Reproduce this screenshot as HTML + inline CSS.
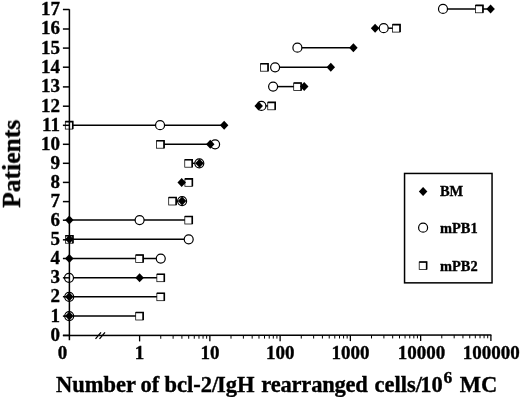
<!DOCTYPE html>
<html><head><meta charset="utf-8"><style>html,body{margin:0;padding:0;background:#fff;}body{width:520px;height:397px;overflow:hidden;}svg{display:block;}</style></head>
<body><svg width="520" height="397" viewBox="0 0 520 397">
<defs><filter id="bl" filterUnits="userSpaceOnUse" x="0" y="0" width="520" height="397"><feGaussianBlur stdDeviation="0.3"/></filter></defs><rect width="520" height="397" fill="#fff"/><g filter="url(#bl)">
<line x1="443.0" y1="8.90" x2="490.6" y2="8.90" stroke="#000" stroke-width="1.5"/>
<line x1="375.1" y1="28.20" x2="396.5" y2="28.20" stroke="#000" stroke-width="1.5"/>
<line x1="297.4" y1="47.70" x2="353.4" y2="47.70" stroke="#000" stroke-width="1.5"/>
<line x1="275.1" y1="67.30" x2="330.8" y2="67.30" stroke="#000" stroke-width="1.5"/>
<line x1="273.1" y1="86.60" x2="304.2" y2="86.60" stroke="#000" stroke-width="1.5"/>
<line x1="258.7" y1="105.90" x2="271.65" y2="105.90" stroke="#000" stroke-width="1.5"/>
<line x1="69.4" y1="125.20" x2="224.15" y2="125.20" stroke="#000" stroke-width="1.5"/>
<line x1="160.5" y1="144.30" x2="215.1" y2="144.30" stroke="#000" stroke-width="1.5"/>
<line x1="188.65" y1="163.30" x2="199.3" y2="163.30" stroke="#000" stroke-width="1.5"/>
<line x1="181.7" y1="182.40" x2="188.8" y2="182.40" stroke="#000" stroke-width="1.5"/>
<line x1="172.6" y1="201.10" x2="182.1" y2="201.10" stroke="#000" stroke-width="1.5"/>
<line x1="69.4" y1="220.10" x2="188.70963250464868" y2="220.10" stroke="#000" stroke-width="1.5"/>
<line x1="69.4" y1="239.30" x2="188.70963250464868" y2="239.30" stroke="#000" stroke-width="1.5"/>
<line x1="69.4" y1="258.60" x2="160.75036749535133" y2="258.60" stroke="#000" stroke-width="1.5"/>
<line x1="69.4" y1="277.80" x2="160.75036749535133" y2="277.80" stroke="#000" stroke-width="1.5"/>
<line x1="69.4" y1="296.80" x2="160.75036749535133" y2="296.80" stroke="#000" stroke-width="1.5"/>
<line x1="69.4" y1="316.10" x2="139.6" y2="316.10" stroke="#000" stroke-width="1.5"/>
<rect x="475.50" y="5.35" width="7.45" height="7.45" fill="#fff" stroke="#000" stroke-width="0.75"/><path d="M475.50 5.35H482.95V12.80" fill="none" stroke="#000" stroke-width="1.6"/>
<circle cx="443.00" cy="8.90" r="4.50" fill="#fff" stroke="#000" stroke-width="1.2"/>
<path d="M490.60 4.40L494.85 8.90L490.60 13.40L486.35 8.90Z" fill="#000"/>
<rect x="392.60" y="24.65" width="7.45" height="7.45" fill="#fff" stroke="#000" stroke-width="0.75"/><path d="M392.60 24.65H400.05V32.10" fill="none" stroke="#000" stroke-width="1.6"/>
<circle cx="383.70" cy="28.20" r="4.50" fill="#fff" stroke="#000" stroke-width="1.2"/>
<path d="M375.10 23.70L379.35 28.20L375.10 32.70L370.85 28.20Z" fill="#000"/>
<circle cx="297.40" cy="47.70" r="4.50" fill="#fff" stroke="#000" stroke-width="1.2"/>
<path d="M353.40 43.20L357.65 47.70L353.40 52.20L349.15 47.70Z" fill="#000"/>
<rect x="260.60" y="63.75" width="7.45" height="7.45" fill="#fff" stroke="#000" stroke-width="0.75"/><path d="M260.60 63.75H268.05V71.20" fill="none" stroke="#000" stroke-width="1.6"/>
<circle cx="275.10" cy="67.30" r="4.50" fill="#fff" stroke="#000" stroke-width="1.2"/>
<path d="M330.80 62.80L335.05 67.30L330.80 71.80L326.55 67.30Z" fill="#000"/>
<rect x="293.70" y="83.05" width="7.45" height="7.45" fill="#fff" stroke="#000" stroke-width="0.75"/><path d="M293.70 83.05H301.15V90.50" fill="none" stroke="#000" stroke-width="1.6"/>
<circle cx="273.10" cy="86.60" r="4.50" fill="#fff" stroke="#000" stroke-width="1.2"/>
<path d="M304.20 82.10L308.45 86.60L304.20 91.10L299.95 86.60Z" fill="#000"/>
<rect x="267.75" y="102.35" width="7.45" height="7.45" fill="#fff" stroke="#000" stroke-width="0.75"/><path d="M267.75 102.35H275.20V109.80" fill="none" stroke="#000" stroke-width="1.6"/>
<circle cx="261.40" cy="105.90" r="4.50" fill="#fff" stroke="#000" stroke-width="1.2"/>
<path d="M258.70 101.40L262.95 105.90L258.70 110.40L254.45 105.90Z" fill="#000"/>
<rect x="65.30" y="121.65" width="7.45" height="7.45" fill="#fff" stroke="#000" stroke-width="0.75"/><path d="M65.30 121.65H72.75V129.10" fill="none" stroke="#000" stroke-width="1.6"/>
<circle cx="160.05" cy="125.20" r="4.50" fill="#fff" stroke="#000" stroke-width="1.2"/>
<path d="M224.15 120.70L228.40 125.20L224.15 129.70L219.90 125.20Z" fill="#000"/>
<rect x="156.60" y="140.75" width="7.45" height="7.45" fill="#fff" stroke="#000" stroke-width="0.75"/><path d="M156.60 140.75H164.05V148.20" fill="none" stroke="#000" stroke-width="1.6"/>
<circle cx="215.10" cy="144.30" r="4.50" fill="#fff" stroke="#000" stroke-width="1.2"/>
<path d="M210.25 139.80L214.50 144.30L210.25 148.80L206.00 144.30Z" fill="#000"/>
<rect x="184.75" y="159.75" width="7.45" height="7.45" fill="#fff" stroke="#000" stroke-width="0.75"/><path d="M184.75 159.75H192.20V167.20" fill="none" stroke="#000" stroke-width="1.6"/>
<circle cx="199.30" cy="163.30" r="4.50" fill="#fff" stroke="#000" stroke-width="1.2"/>
<path d="M199.50 158.80L203.75 163.30L199.50 167.80L195.25 163.30Z" fill="#000"/>
<rect x="184.90" y="178.85" width="7.45" height="7.45" fill="#fff" stroke="#000" stroke-width="0.75"/><path d="M184.90 178.85H192.35V186.30" fill="none" stroke="#000" stroke-width="1.6"/>
<path d="M181.70 177.90L185.95 182.40L181.70 186.90L177.45 182.40Z" fill="#000"/>
<rect x="168.70" y="197.55" width="7.45" height="7.45" fill="#fff" stroke="#000" stroke-width="0.75"/><path d="M168.70 197.55H176.15V205.00" fill="none" stroke="#000" stroke-width="1.6"/>
<circle cx="182.10" cy="201.10" r="4.50" fill="#fff" stroke="#000" stroke-width="1.2"/>
<path d="M182.10 196.60L186.35 201.10L182.10 205.60L177.85 201.10Z" fill="#000"/>
<rect x="184.81" y="216.55" width="7.45" height="7.45" fill="#fff" stroke="#000" stroke-width="0.75"/><path d="M184.81 216.55H192.26V224.00" fill="none" stroke="#000" stroke-width="1.6"/>
<circle cx="139.60" cy="220.10" r="4.50" fill="#fff" stroke="#000" stroke-width="1.2"/>
<path d="M69.30 215.60L73.55 220.10L69.30 224.60L65.05 220.10Z" fill="#000"/>
<rect x="65.50" y="235.75" width="7.45" height="7.45" fill="#fff" stroke="#000" stroke-width="0.75"/><path d="M65.50 235.75H72.95V243.20" fill="none" stroke="#000" stroke-width="1.6"/>
<circle cx="188.71" cy="239.30" r="4.50" fill="#fff" stroke="#000" stroke-width="1.2"/>
<path d="M69.40 234.80L73.65 239.30L69.40 243.80L65.15 239.30Z" fill="#000"/>
<rect x="135.70" y="255.05" width="7.45" height="7.45" fill="#fff" stroke="#000" stroke-width="0.75"/><path d="M135.70 255.05H143.15V262.50" fill="none" stroke="#000" stroke-width="1.6"/>
<circle cx="160.75" cy="258.60" r="4.50" fill="#fff" stroke="#000" stroke-width="1.2"/>
<path d="M69.30 254.10L73.55 258.60L69.30 263.10L65.05 258.60Z" fill="#000"/>
<rect x="156.85" y="274.25" width="7.45" height="7.45" fill="#fff" stroke="#000" stroke-width="0.75"/><path d="M156.85 274.25H164.30V281.70" fill="none" stroke="#000" stroke-width="1.6"/>
<circle cx="69.00" cy="277.80" r="4.50" fill="#fff" stroke="#000" stroke-width="1.2"/>
<path d="M139.60 273.30L143.85 277.80L139.60 282.30L135.35 277.80Z" fill="#000"/>
<rect x="156.85" y="293.25" width="7.45" height="7.45" fill="#fff" stroke="#000" stroke-width="0.75"/><path d="M156.85 293.25H164.30V300.70" fill="none" stroke="#000" stroke-width="1.6"/>
<circle cx="69.20" cy="296.80" r="4.50" fill="#fff" stroke="#000" stroke-width="1.2"/>
<path d="M69.30 292.30L73.55 296.80L69.30 301.30L65.05 296.80Z" fill="#000"/>
<rect x="135.70" y="312.55" width="7.45" height="7.45" fill="#fff" stroke="#000" stroke-width="0.75"/><path d="M135.70 312.55H143.15V320.00" fill="none" stroke="#000" stroke-width="1.6"/>
<circle cx="69.20" cy="316.10" r="4.50" fill="#fff" stroke="#000" stroke-width="1.2"/>
<path d="M69.30 311.60L73.55 316.10L69.30 320.60L65.05 316.10Z" fill="#000"/>
<line x1="69.4" y1="9.3" x2="69.4" y2="340.2" stroke="#000" stroke-width="1.5"/>
<line x1="62.900000000000006" y1="335.51" x2="491.4" y2="334.90" stroke="#000" stroke-width="1.5"/>
<line x1="62.900000000000006" y1="335.40" x2="69.4" y2="335.40" stroke="#000" stroke-width="1.5"/>
<line x1="62.900000000000006" y1="316.10" x2="69.4" y2="316.10" stroke="#000" stroke-width="1.5"/>
<line x1="62.900000000000006" y1="296.70" x2="69.4" y2="296.70" stroke="#000" stroke-width="1.5"/>
<line x1="62.900000000000006" y1="277.80" x2="69.4" y2="277.80" stroke="#000" stroke-width="1.5"/>
<line x1="62.900000000000006" y1="258.50" x2="69.4" y2="258.50" stroke="#000" stroke-width="1.5"/>
<line x1="62.900000000000006" y1="239.80" x2="69.4" y2="239.80" stroke="#000" stroke-width="1.5"/>
<line x1="62.900000000000006" y1="220.20" x2="69.4" y2="220.20" stroke="#000" stroke-width="1.5"/>
<line x1="62.900000000000006" y1="201.60" x2="69.4" y2="201.60" stroke="#000" stroke-width="1.5"/>
<line x1="62.900000000000006" y1="182.40" x2="69.4" y2="182.40" stroke="#000" stroke-width="1.5"/>
<line x1="62.900000000000006" y1="163.30" x2="69.4" y2="163.30" stroke="#000" stroke-width="1.5"/>
<line x1="62.900000000000006" y1="144.30" x2="69.4" y2="144.30" stroke="#000" stroke-width="1.5"/>
<line x1="62.900000000000006" y1="125.30" x2="69.4" y2="125.30" stroke="#000" stroke-width="1.5"/>
<line x1="62.900000000000006" y1="106.20" x2="69.4" y2="106.20" stroke="#000" stroke-width="1.5"/>
<line x1="62.900000000000006" y1="86.90" x2="69.4" y2="86.90" stroke="#000" stroke-width="1.5"/>
<line x1="62.900000000000006" y1="67.20" x2="69.4" y2="67.20" stroke="#000" stroke-width="1.5"/>
<line x1="62.900000000000006" y1="48.10" x2="69.4" y2="48.10" stroke="#000" stroke-width="1.5"/>
<line x1="62.900000000000006" y1="29.00" x2="69.4" y2="29.00" stroke="#000" stroke-width="1.5"/>
<line x1="62.900000000000006" y1="9.50" x2="69.4" y2="9.50" stroke="#000" stroke-width="1.5"/>
<line x1="139.60" y1="335.40" x2="139.60" y2="341.40" stroke="#000" stroke-width="1.3"/>
<line x1="160.75" y1="335.37" x2="160.75" y2="338.77" stroke="#000" stroke-width="1.0"/>
<line x1="173.12" y1="335.35" x2="173.12" y2="338.75" stroke="#000" stroke-width="1.0"/>
<line x1="181.90" y1="335.34" x2="181.90" y2="338.74" stroke="#000" stroke-width="1.0"/>
<line x1="188.71" y1="335.33" x2="188.71" y2="338.73" stroke="#000" stroke-width="1.0"/>
<line x1="194.27" y1="335.32" x2="194.27" y2="338.72" stroke="#000" stroke-width="1.0"/>
<line x1="198.98" y1="335.31" x2="198.98" y2="338.71" stroke="#000" stroke-width="1.0"/>
<line x1="203.05" y1="335.31" x2="203.05" y2="338.71" stroke="#000" stroke-width="1.0"/>
<line x1="206.65" y1="335.30" x2="206.65" y2="338.70" stroke="#000" stroke-width="1.0"/>
<line x1="209.86" y1="335.30" x2="209.86" y2="341.30" stroke="#000" stroke-width="1.3"/>
<line x1="231.01" y1="335.27" x2="231.01" y2="338.67" stroke="#000" stroke-width="1.0"/>
<line x1="243.38" y1="335.25" x2="243.38" y2="338.65" stroke="#000" stroke-width="1.0"/>
<line x1="252.16" y1="335.24" x2="252.16" y2="338.64" stroke="#000" stroke-width="1.0"/>
<line x1="258.97" y1="335.23" x2="258.97" y2="338.63" stroke="#000" stroke-width="1.0"/>
<line x1="264.53" y1="335.22" x2="264.53" y2="338.62" stroke="#000" stroke-width="1.0"/>
<line x1="269.24" y1="335.21" x2="269.24" y2="338.61" stroke="#000" stroke-width="1.0"/>
<line x1="273.31" y1="335.21" x2="273.31" y2="338.61" stroke="#000" stroke-width="1.0"/>
<line x1="276.91" y1="335.20" x2="276.91" y2="338.60" stroke="#000" stroke-width="1.0"/>
<line x1="280.12" y1="335.20" x2="280.12" y2="341.20" stroke="#000" stroke-width="1.3"/>
<line x1="301.27" y1="335.17" x2="301.27" y2="338.57" stroke="#000" stroke-width="1.0"/>
<line x1="313.64" y1="335.15" x2="313.64" y2="338.55" stroke="#000" stroke-width="1.0"/>
<line x1="322.42" y1="335.14" x2="322.42" y2="338.54" stroke="#000" stroke-width="1.0"/>
<line x1="329.23" y1="335.13" x2="329.23" y2="338.53" stroke="#000" stroke-width="1.0"/>
<line x1="334.79" y1="335.12" x2="334.79" y2="338.52" stroke="#000" stroke-width="1.0"/>
<line x1="339.50" y1="335.11" x2="339.50" y2="338.51" stroke="#000" stroke-width="1.0"/>
<line x1="343.57" y1="335.11" x2="343.57" y2="338.51" stroke="#000" stroke-width="1.0"/>
<line x1="347.17" y1="335.10" x2="347.17" y2="338.50" stroke="#000" stroke-width="1.0"/>
<line x1="350.38" y1="335.10" x2="350.38" y2="341.10" stroke="#000" stroke-width="1.3"/>
<line x1="371.53" y1="335.07" x2="371.53" y2="338.47" stroke="#000" stroke-width="1.0"/>
<line x1="383.90" y1="335.05" x2="383.90" y2="338.45" stroke="#000" stroke-width="1.0"/>
<line x1="392.68" y1="335.04" x2="392.68" y2="338.44" stroke="#000" stroke-width="1.0"/>
<line x1="399.49" y1="335.03" x2="399.49" y2="338.43" stroke="#000" stroke-width="1.0"/>
<line x1="405.05" y1="335.02" x2="405.05" y2="338.42" stroke="#000" stroke-width="1.0"/>
<line x1="409.76" y1="335.01" x2="409.76" y2="338.41" stroke="#000" stroke-width="1.0"/>
<line x1="413.83" y1="335.01" x2="413.83" y2="338.41" stroke="#000" stroke-width="1.0"/>
<line x1="417.43" y1="335.00" x2="417.43" y2="338.40" stroke="#000" stroke-width="1.0"/>
<line x1="420.64" y1="335.00" x2="420.64" y2="341.00" stroke="#000" stroke-width="1.3"/>
<line x1="441.79" y1="334.97" x2="441.79" y2="338.37" stroke="#000" stroke-width="1.0"/>
<line x1="454.16" y1="334.95" x2="454.16" y2="338.35" stroke="#000" stroke-width="1.0"/>
<line x1="462.94" y1="334.94" x2="462.94" y2="338.34" stroke="#000" stroke-width="1.0"/>
<line x1="469.75" y1="334.93" x2="469.75" y2="338.33" stroke="#000" stroke-width="1.0"/>
<line x1="475.31" y1="334.92" x2="475.31" y2="338.32" stroke="#000" stroke-width="1.0"/>
<line x1="480.02" y1="334.91" x2="480.02" y2="338.31" stroke="#000" stroke-width="1.0"/>
<line x1="484.09" y1="334.91" x2="484.09" y2="338.31" stroke="#000" stroke-width="1.0"/>
<line x1="487.69" y1="334.90" x2="487.69" y2="338.30" stroke="#000" stroke-width="1.0"/>
<line x1="490.90" y1="334.90" x2="490.90" y2="340.90" stroke="#000" stroke-width="1.3"/>
<path d="M95.5 338.8L101 332.3M99.5 338.8L105 332.3" stroke="#000" stroke-width="1.3" fill="none"/>
<text x="60" y="340.80" font-family="Liberation Serif, serif" font-weight="bold" stroke="#000" stroke-width="0.35" font-size="19" text-anchor="end">0</text>
<text x="60" y="321.50" font-family="Liberation Serif, serif" font-weight="bold" stroke="#000" stroke-width="0.35" font-size="19" text-anchor="end">1</text>
<text x="60" y="302.10" font-family="Liberation Serif, serif" font-weight="bold" stroke="#000" stroke-width="0.35" font-size="19" text-anchor="end">2</text>
<text x="60" y="283.20" font-family="Liberation Serif, serif" font-weight="bold" stroke="#000" stroke-width="0.35" font-size="19" text-anchor="end">3</text>
<text x="60" y="263.90" font-family="Liberation Serif, serif" font-weight="bold" stroke="#000" stroke-width="0.35" font-size="19" text-anchor="end">4</text>
<text x="60" y="245.20" font-family="Liberation Serif, serif" font-weight="bold" stroke="#000" stroke-width="0.35" font-size="19" text-anchor="end">5</text>
<text x="60" y="225.60" font-family="Liberation Serif, serif" font-weight="bold" stroke="#000" stroke-width="0.35" font-size="19" text-anchor="end">6</text>
<text x="60" y="207.00" font-family="Liberation Serif, serif" font-weight="bold" stroke="#000" stroke-width="0.35" font-size="19" text-anchor="end">7</text>
<text x="60" y="187.80" font-family="Liberation Serif, serif" font-weight="bold" stroke="#000" stroke-width="0.35" font-size="19" text-anchor="end">8</text>
<text x="60" y="168.70" font-family="Liberation Serif, serif" font-weight="bold" stroke="#000" stroke-width="0.35" font-size="19" text-anchor="end">9</text>
<text x="60" y="149.70" font-family="Liberation Serif, serif" font-weight="bold" stroke="#000" stroke-width="0.35" font-size="19" text-anchor="end">10</text>
<text x="60" y="130.70" font-family="Liberation Serif, serif" font-weight="bold" stroke="#000" stroke-width="0.35" font-size="19" text-anchor="end">11</text>
<text x="60" y="111.60" font-family="Liberation Serif, serif" font-weight="bold" stroke="#000" stroke-width="0.35" font-size="19" text-anchor="end">12</text>
<text x="60" y="92.30" font-family="Liberation Serif, serif" font-weight="bold" stroke="#000" stroke-width="0.35" font-size="19" text-anchor="end">13</text>
<text x="60" y="72.60" font-family="Liberation Serif, serif" font-weight="bold" stroke="#000" stroke-width="0.35" font-size="19" text-anchor="end">14</text>
<text x="60" y="53.50" font-family="Liberation Serif, serif" font-weight="bold" stroke="#000" stroke-width="0.35" font-size="19" text-anchor="end">15</text>
<text x="60" y="34.40" font-family="Liberation Serif, serif" font-weight="bold" stroke="#000" stroke-width="0.35" font-size="19" text-anchor="end">16</text>
<text x="60" y="14.90" font-family="Liberation Serif, serif" font-weight="bold" stroke="#000" stroke-width="0.35" font-size="19" text-anchor="end">17</text>
<text x="62.50" y="359" font-family="Liberation Serif, serif" font-weight="bold" stroke="#000" stroke-width="0.35" font-size="19" text-anchor="middle">0</text>
<text x="139.45" y="359" font-family="Liberation Serif, serif" font-weight="bold" stroke="#000" stroke-width="0.35" font-size="19" text-anchor="middle">1</text>
<text x="209.90" y="359" font-family="Liberation Serif, serif" font-weight="bold" stroke="#000" stroke-width="0.35" font-size="19" text-anchor="middle">10</text>
<text x="280.25" y="359" font-family="Liberation Serif, serif" font-weight="bold" stroke="#000" stroke-width="0.35" font-size="19" text-anchor="middle">100</text>
<text x="350.40" y="359" font-family="Liberation Serif, serif" font-weight="bold" stroke="#000" stroke-width="0.35" font-size="19" text-anchor="middle">1000</text>
<text x="421.60" y="359" font-family="Liberation Serif, serif" font-weight="bold" stroke="#000" stroke-width="0.35" font-size="19" text-anchor="middle">10000</text>
<text x="491.15" y="359" font-family="Liberation Serif, serif" font-weight="bold" stroke="#000" stroke-width="0.35" font-size="19" text-anchor="middle">100000</text>
<text x="56" y="392" font-family="Liberation Serif, serif" font-weight="bold" stroke="#000" stroke-width="0.35" font-size="22.5">Number <tspan x="140.6">of </tspan><tspan x="164.56">bcl-2/</tspan><tspan x="217.0">IgH </tspan><tspan x="261.35" letter-spacing="-0.2">rearranged </tspan><tspan x="374.6">cells/</tspan><tspan x="420.3">10</tspan><tspan x="443.4" font-size="17.5" dy="-8.8">6</tspan><tspan x="459.75" dy="8.8">MC</tspan></text>
<text transform="translate(20,207.7) rotate(-90)" font-family="Liberation Serif, serif" font-weight="bold" stroke="#000" stroke-width="0.35" font-size="25.5">Patients</text>
<rect x="404.55" y="173.45" width="87.5" height="109.4" fill="none" stroke="#000" stroke-width="1.5"/>
<path d="M423.10 187.00L427.35 191.50L423.10 196.00L418.85 191.50Z" fill="#000"/>
<circle cx="423.10" cy="227.70" r="4.50" fill="#fff" stroke="#000" stroke-width="1.2"/>
<rect x="419.20" y="262.05" width="7.45" height="7.45" fill="#fff" stroke="#000" stroke-width="0.75"/><path d="M419.20 262.05H426.65V269.50" fill="none" stroke="#000" stroke-width="1.6"/>
<text x="440" y="196.3" font-family="Liberation Serif, serif" font-weight="bold" stroke="#000" stroke-width="0.35" font-size="14.4">BM</text>
<text x="440" y="233.1" font-family="Liberation Serif, serif" font-weight="bold" stroke="#000" stroke-width="0.35" font-size="14.4">mPB1</text>
<text x="440" y="270.5" font-family="Liberation Serif, serif" font-weight="bold" stroke="#000" stroke-width="0.35" font-size="14.4">mPB2</text>
</g></svg></body></html>
